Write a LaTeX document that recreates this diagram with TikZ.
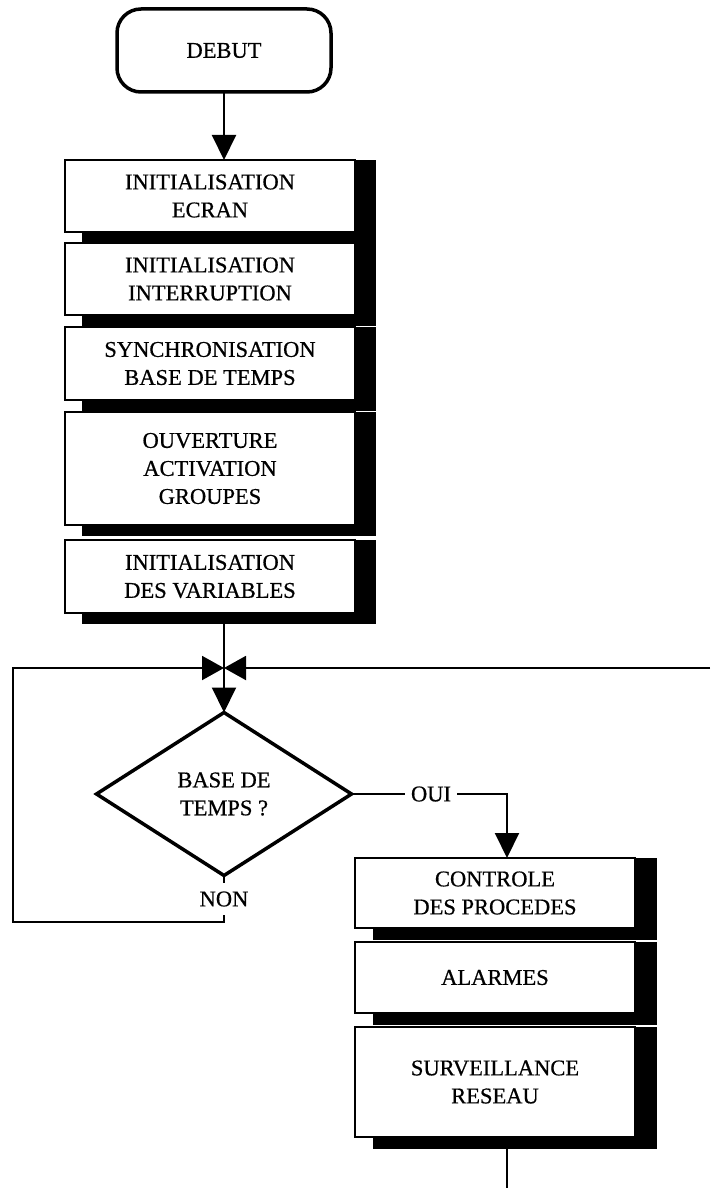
\documentclass[tikz,border=0pt]{standalone}
\usepackage{fontspec}
\setmainfont[FakeBold=0.6]{Liberation Serif}
\usetikzlibrary{arrows.meta,shapes.geometric,calc,backgrounds}
\begin{document}
\begin{tikzpicture}[x=1pt,y=-1pt,
  font=\fontsize{22.5}{28}\selectfont,
  startbox/.style={draw, line width=3.5pt, rounded corners=24pt, fill=white,
    minimum width=214pt, minimum height=83pt, inner sep=0pt, outer sep=0pt},
  stepbox/.style={draw, line width=2pt, fill=white, align=center,
    inner sep=0pt, outer sep=0pt},
  leftcol/.style={stepbox, minimum width=290pt},
  rightcol/.style={stepbox, minimum width=280pt},
  decision/.style={diamond, draw, line width=3.5pt, fill=white, align=center,
    minimum width=255pt, minimum height=163pt, inner sep=0pt, outer sep=0pt,
    aspect=1.56},
  lbl/.style={inner sep=0pt, outer sep=0pt},
  conn/.style={line width=2pt},
  tip/.style={-{Triangle[length=25pt,width=24pt]}},
  bowtip/.style={-{Triangle[length=22pt,width=24pt]}}]

% page
\begin{scope}[on background layer]
  \fill[white] (0,0) rectangle (710,1188);
\end{scope}
\useasboundingbox (0,0) rectangle (710,1188);

% start
\node[startbox] (debut) at (224,50.5) {DEBUT};

% initialisation sequence
\node[leftcol, minimum height=72pt]  (b1) at (210,196)   {INITIALISATION\\ECRAN};
\node[leftcol, minimum height=72pt]  (b2) at (210,279)   {INITIALISATION\\INTERRUPTION};
\node[leftcol, minimum height=73pt]  (b3) at (210,363.5) {SYNCHRONISATION\\BASE DE TEMPS};
\node[leftcol, minimum height=113pt] (b4) at (210,468.5) {OUVERTURE\\ACTIVATION\\GROUPES};
\node[leftcol, minimum height=73pt]  (b5) at (210,576.5) {INITIALISATION\\DES VARIABLES};

% test
\coordinate (j) at (224,668);
\node[decision] (dec) at (224,794) {BASE DE\\TEMPS ?};
\node[lbl, minimum width=52pt] (oui) at (431,794) {OUI};
\node[lbl, minimum height=32pt] (non) at (224,899) {NON};

% cyclic tasks
\node[rightcol, minimum height=70pt]  (r1) at (495,893)    {CONTROLE\\DES PROCEDES};
\node[rightcol, minimum height=71pt]  (r2) at (495,977.5)  {ALARMES};
\node[rightcol, minimum height=110pt] (r3) at (495,1082)   {SURVEILLANCE\\RESEAU};

% drop shadows
\begin{scope}[on background layer]
  \foreach \n in {b1,b2,b3,b4,b5}
    \fill ($(\n.south west)+(17,11)$) rectangle ($(\n.north east)+(21,0)$);
  \foreach \n in {r1,r2,r3}
    \fill ($(\n.south west)+(18,12)$) rectangle ($(\n.north east)+(22,0)$);
\end{scope}

% loop points
\coordinate (lb) at (13,922);
\coordinate (lt) at (13,668);
\coordinate (rin) at (710,668);
\coordinate (rtop) at ($(r1.north)+(12,0)$);
\coordinate (rout) at (507,1188);

% connectors
\draw[conn, tip] (debut.south) -- (debut.south |- b1.north);
\draw[conn] (b5.south -| j) -- (j);
\draw[conn, tip] (j) -- (dec.north);
\draw[conn] (dec.south) -- (non.north);
\draw[conn, bowtip] (non.south) -- (non.south |- lb) -- (lb) -- (lt) -- (j);
\draw[conn, bowtip] (rin) -- (j);
\draw[conn] (dec.east) -- (oui.west);
\draw[conn, tip] (oui.east) -| (rtop);
\draw[conn] (r3.south -| rout) -- (rout);

\end{tikzpicture}
\end{document}
